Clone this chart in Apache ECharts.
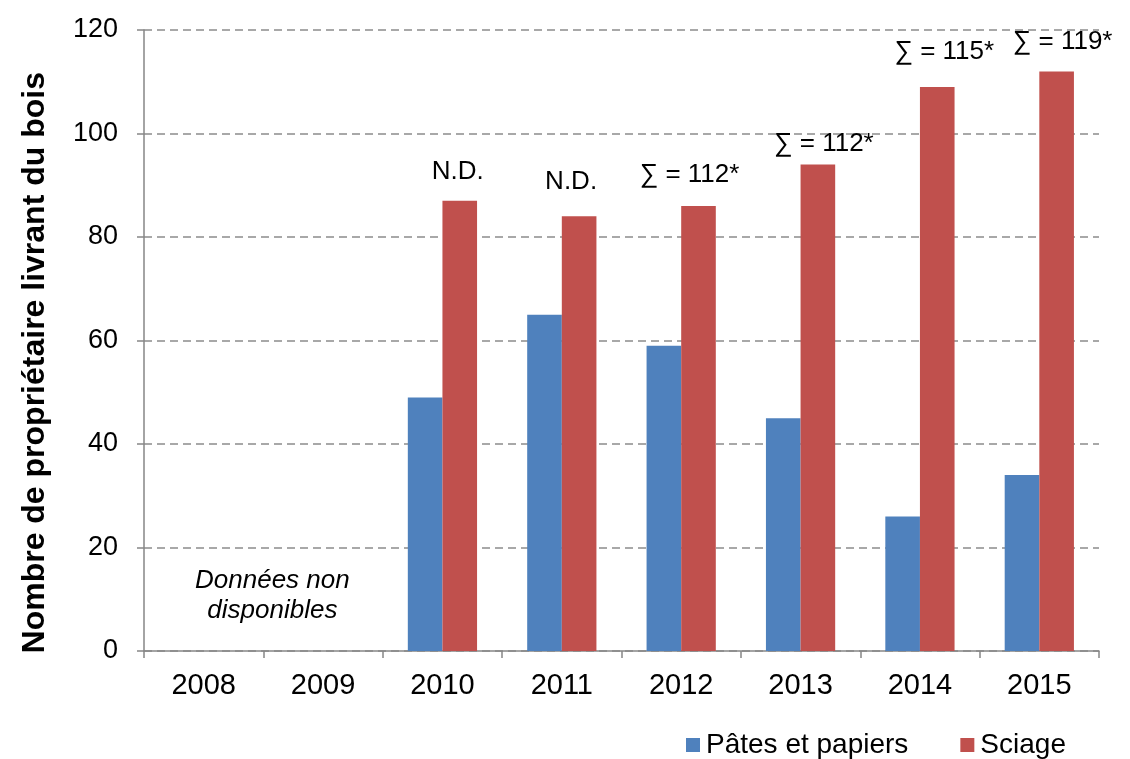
<!DOCTYPE html>
<html>
<head>
<meta charset="utf-8">
<script src="https://cdn.jsdelivr.net/npm/echarts@6/dist/echarts.min.js"></script>
<style>
  html, body { margin: 0; padding: 0; background: #fff; }
  #chart { width: 1130px; height: 759px; }
</style>
</head>
<body>
<div id="chart"></div>
<script>
// Years on the category axis
const years = ['2008', '2009', '2010', '2011', '2012', '2013', '2014', '2015'];
// Number of owners delivering wood, by sector (no data for 2008–2009)
const pates = [null, null, 49, 65, 59, 45, 26, 34];
const sciage = [null, null, 87, 84, 86, 94, 109, 112];
// Annotation above each year's pair of bars (distinct owner total or N.D.)
const totals = ['', '', 'N.D.', 'N.D.', '∑ = 112*', '∑ = 112*', '∑ = 115*', '∑ = 119*'];
const yTicks = [0, 20, 40, 60, 80, 100, 120];
const seriesNames = ['Pâtes et papiers', 'Sciage'];
const yTitle = 'Nombre de propriétaire livrant du bois';
const noDataNote = 'Données non\ndisponibles';

// Fine placement of the annotations relative to the top of the red bar
const labelOffsets = [[0, 0], [0, 0], [-2, -16], [-8, -21], [-9, -18], [6, -8], [7, -22], [6, -17]];

const FONT = '"Liberation Sans", Arial, sans-serif';
const AXIS_GRAY = '#868686';

const chart = echarts.init(document.getElementById('chart'), null, { renderer: 'canvas' });

const sciageData = sciage.map((v, i) => ({
  value: v,
  label: { formatter: totals[i], offset: labelOffsets[i] }
}));

chart.setOption({
  animation: false,
  backgroundColor: '#ffffff',
  textStyle: { fontFamily: FONT },
  grid: { left: 144, right: 31, top: 30, bottom: 108, containLabel: false },
  legend: {
    data: seriesNames,
    left: 686,
    top: 731,
    padding: 0,
    icon: 'rect',
    itemWidth: 14,
    itemHeight: 14,
    itemGap: 52,
    textStyle: { fontFamily: FONT, fontSize: 28, color: '#000', padding: [0, 0, 0, 1] }
  },
  xAxis: {
    type: 'category',
    data: years,
    boundaryGap: true,
    axisLine: { show: true, lineStyle: { color: AXIS_GRAY, width: 1.5 } },
    axisTick: { show: true, length: 7, lineStyle: { color: AXIS_GRAY, width: 1.5 } },
    axisLabel: { fontFamily: FONT, fontSize: 29, color: '#000', margin: 20 },
    splitLine: { show: false }
  },
  yAxis: {
    type: 'value',
    min: yTicks[0],
    max: yTicks[yTicks.length - 1],
    interval: yTicks[1] - yTicks[0],
    axisLine: { show: true, lineStyle: { color: AXIS_GRAY, width: 1.5 } },
    axisTick: { show: true, length: 7, lineStyle: { color: AXIS_GRAY, width: 1.5 } },
    axisLabel: { fontFamily: FONT, fontSize: 27, color: '#000', margin: 26 },
    splitLine: { show: true, lineStyle: { color: '#8c8c8c', width: 1.5, type: [8, 5] } }
  },
  series: [
    {
      name: seriesNames[0],
      type: 'bar',
      data: pates,
      barGap: '0%',
      barCategoryGap: '42%',
      itemStyle: { color: '#4f81bd' }
    },
    {
      name: seriesNames[1],
      type: 'bar',
      data: sciageData,
      barGap: '0%',
      barCategoryGap: '42%',
      itemStyle: { color: '#c0504d' },
      label: {
        show: true,
        position: 'top',
        distance: 0,
        fontFamily: FONT,
        fontSize: 26,
        color: '#000'
      }
    }
  ]
});

// Rotated axis title and the "no data" note, placed from the axes' own scale
const x0 = chart.convertToPixel({ xAxisIndex: 0 }, years[0]);
const x1 = chart.convertToPixel({ xAxisIndex: 0 }, years[1]);
const noteY = chart.convertToPixel({ yAxisIndex: 0 }, 10.6);
const titleY = chart.convertToPixel({ yAxisIndex: 0 }, 55.7);

chart.setOption({
  graphic: [
    {
      type: 'text',
      x: 35,
      y: titleY,
      rotation: Math.PI / 2,
      style: {
        text: yTitle,
        fontFamily: FONT,
        fontSize: 32,
        fontWeight: 'bold',
        fill: '#000',
        align: 'center',
        verticalAlign: 'middle'
      }
    },
    {
      type: 'text',
      x: (x0 + x1) / 2 + 9,
      y: noteY,
      style: {
        text: noDataNote,
        fontFamily: FONT,
        fontSize: 26,
        fontStyle: 'italic',
        lineHeight: 30,
        fill: '#000',
        align: 'center',
        verticalAlign: 'middle'
      }
    }
  ]
});
</script>
</body>
</html>
